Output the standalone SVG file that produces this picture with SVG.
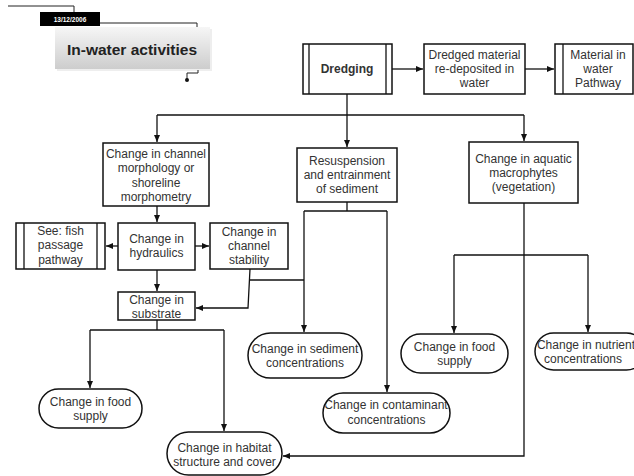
<svg xmlns="http://www.w3.org/2000/svg" width="634" height="476" viewBox="0 0 634 476">
<defs>
<marker id="ah" markerUnits="userSpaceOnUse" markerWidth="8" markerHeight="8" viewBox="0 0 8 8" refX="7" refY="4" orient="auto"><path d="M0,1 L7,4 L0,7 Z" fill="#111"/></marker>
<linearGradient id="tg" x1="0" y1="0" x2="0" y2="1"><stop offset="0" stop-color="#f6f6f6"/><stop offset="1" stop-color="#cdcdcd"/></linearGradient>
<clipPath id="ccl"><rect x="324" y="393" width="125" height="40" rx="20"/></clipPath>
<style>
.b{fill:#fff;stroke:#111;stroke-width:1.5}
.t{font-family:"Liberation Sans",Arial,sans-serif;font-size:12px;fill:#333;text-anchor:middle}
.c{fill:none;stroke:#111;stroke-width:1.3}
.a{marker-end:url(#ah)}
</style>
</defs>
<g id="header">
<path d="M8,6 H74 V12" fill="none" stroke="#222" stroke-width="1"/>
<rect x="40" y="12" width="60" height="14" fill="#000"/>
<text x="70" y="21.5" font-family="Liberation Sans,Arial,sans-serif" font-size="6.5" font-weight="bold" fill="#fff" text-anchor="middle">13/12/2006</text>
<path d="M100,23 H197 V27" fill="none" stroke="#222" stroke-width="1"/>
<rect x="57" y="29" width="155" height="42" fill="#e2e2e2" opacity="0.6"/>
<rect x="55" y="27" width="155" height="42" fill="url(#tg)"/>
<text x="132" y="55" font-family="Liberation Sans,Arial,sans-serif" font-size="15.5" font-weight="bold" fill="#222" text-anchor="middle">In-water activities</text>
<path d="M198,70 V73 H187 V80" fill="none" stroke="#222" stroke-width="1"/>
<circle cx="187" cy="80" r="2" fill="#111"/>
</g>
<g id="connectors">
<path class="c a" d="M392,69 H423"/>
<path class="c a" d="M525,69 H554"/>
<path class="c a" d="M347,94 V147"/>
<path class="c" d="M157,115 H524"/>
<path class="c a" d="M157,115 V142"/>
<path class="c a" d="M524,115 V141"/>
<path class="c a" d="M157,206 V222"/>
<path class="c a" d="M118,246 H106"/>
<path class="c a" d="M195,246 H209"/>
<path class="c a" d="M157,270 V291"/>
<path class="c a" d="M250,269 L248,308 H196"/>
<path class="c" d="M250,280 H304"/>
<path class="c" d="M347,202 V211"/>
<path class="c" d="M304,211 H387"/>
<path class="c a" d="M304,211 V332"/>
<path class="c a" d="M387,211 V392"/>
<path class="c" d="M524,203 V255"/>
<path class="c" d="M454,255 H588"/>
<path class="c a" d="M454,255 V333"/>
<path class="c a" d="M588,255 V332"/>
<path class="c a" d="M524,255 V456 H283"/>
<path class="c" d="M157,320 V330"/>
<path class="c" d="M90,330 H224"/>
<path class="c a" d="M90,330 V388"/>
<path class="c a" d="M224,330 V431"/>
</g>
<g id="dredging">
<rect class="b" x="303" y="44" width="89" height="50"/>
<path d="M309,44 V94 M386,44 V94" stroke="#111" stroke-width="1.3"/>
<text class="t" x="347" y="73" font-weight="bold">Dredging</text>
</g>
<g id="redeposited">
<rect class="b" x="424" y="44" width="101" height="50"/>
<text class="t" x="474.5" y="59">Dredged material</text>
<text class="t" x="474.5" y="73">re-deposited in</text>
<text class="t" x="474.5" y="87">water</text>
</g>
<g id="materialpathway">
<rect class="b" x="555" y="44" width="78" height="50"/>
<path d="M563,44 V94" stroke="#111" stroke-width="1.3"/>
<text class="t" x="598" y="59">Material in</text>
<text class="t" x="598" y="73">water</text>
<text class="t" x="598" y="87">Pathway</text>
</g>
<g id="morphology">
<rect class="b" x="103" y="143" width="106" height="63"/>
<text class="t" x="156" y="157.5">Change in channel</text>
<text class="t" x="156" y="172">morphology or</text>
<text class="t" x="156" y="186.5">shoreline</text>
<text class="t" x="156" y="201">morphometry</text>
</g>
<g id="resuspension">
<rect class="b" x="297" y="148" width="100" height="54"/>
<text class="t" x="347" y="165">Resuspension</text>
<text class="t" x="347" y="179">and entrainment</text>
<text class="t" x="347" y="193">of sediment</text>
</g>
<g id="macrophytes">
<rect class="b" x="469" y="142" width="109" height="61"/>
<text class="t" x="523.5" y="163">Change in aquatic</text>
<text class="t" x="523.5" y="177">macrophytes</text>
<text class="t" x="523.5" y="191">(vegetation)</text>
</g>
<g id="fishpassage">
<rect class="b" x="16" y="223" width="89" height="46"/>
<path d="M24,223 V269 M97,223 V269" stroke="#111" stroke-width="1.3"/>
<text class="t" x="60.5" y="235">See: fish</text>
<text class="t" x="60.5" y="249">passage</text>
<text class="t" x="60.5" y="263.5">pathway</text>
</g>
<g id="hydraulics">
<rect class="b" x="118" y="223" width="77" height="47"/>
<text class="t" x="156.5" y="243">Change in</text>
<text class="t" x="156.5" y="257">hydraulics</text>
</g>
<g id="stability">
<rect class="b" x="210" y="223" width="78" height="46"/>
<text class="t" x="249" y="236">Change in</text>
<text class="t" x="249" y="250">channel</text>
<text class="t" x="249" y="264">stability</text>
</g>
<g id="substrate">
<rect class="b" x="118" y="292" width="77" height="28"/>
<text class="t" x="156.5" y="304">Change in</text>
<text class="t" x="156.5" y="318">substrate</text>
</g>
<g id="sediment">
<rect class="b" x="248" y="333" width="114" height="45" rx="22.5"/>
<text class="t" x="305" y="353">Change in sediment</text>
<text class="t" x="305" y="367">concentrations</text>
</g>
<g id="foodright">
<rect class="b" x="401" y="334" width="107" height="39" rx="19.5"/>
<text class="t" x="454.5" y="351">Change in food</text>
<text class="t" x="454.5" y="364.5">supply</text>
</g>
<g id="nutrient">
<rect class="b" x="535" y="333" width="110" height="37" rx="18.5"/>
<text class="t" x="586" y="349">Change in nutrient</text>
<text class="t" x="583" y="362.5">concentrations</text>
</g>
<g id="contaminants">
<rect class="b" x="323" y="393" width="127" height="40" rx="20"/>
<text class="t" x="389" y="409" clip-path="url(#ccl)">Change in contaminants</text>
<text class="t" x="386.5" y="424">concentrations</text>
</g>
<g id="foodleft">
<rect class="b" x="39" y="389" width="103" height="39" rx="19.5"/>
<text class="t" x="90.5" y="406">Change in food</text>
<text class="t" x="90.5" y="420">supply</text>
</g>
<g id="habitat">
<rect class="b" x="167" y="432" width="115" height="43" rx="21.5"/>
<text class="t" x="224.5" y="452">Change in habitat</text>
<text class="t" x="224.5" y="466">structure and cover</text>
</g>
</svg>
